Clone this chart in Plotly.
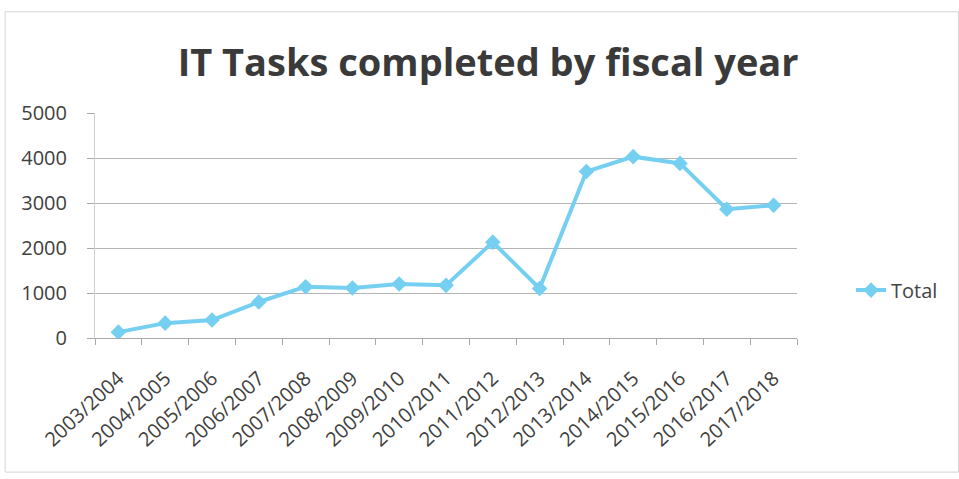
import plotly.graph_objects as go

years = ["2003/2004", "2004/2005", "2005/2006", "2006/2007", "2007/2008",
         "2008/2009", "2009/2010", "2010/2011", "2011/2012", "2012/2013",
         "2013/2014", "2014/2015", "2015/2016", "2016/2017", "2017/2018"]
totals = [130, 330, 400, 800, 1140, 1110, 1200, 1170, 2130, 1100,
          3700, 4030, 3880, 2860, 2950]
y_ticks = [0, 1000, 2000, 3000, 4000, 5000]

line_color = "#74cff1"
font_family = "Open Sans, Lato, sans-serif"
text_color = "#404040"

fig = go.Figure()
fig.add_trace(go.Scatter(
    x=years, y=totals, mode="lines+markers", name="Total",
    line=dict(color=line_color, width=4),
    marker=dict(symbol="diamond", size=12, color=line_color),
))

fig.update_layout(
    width=959, height=479,
    paper_bgcolor="white", plot_bgcolor="white",
    margin=dict(l=95, r=162, t=113, b=141),
    title=dict(text="<b>IT Tasks completed by fiscal year</b>",
               x=0.509, xanchor="center", y=0.87, yanchor="middle",
               font=dict(family=font_family, size=38, color="#3a3a3a")),
    legend=dict(x=1.077, xanchor="left", y=0.213, yanchor="middle",
                font=dict(family=font_family, size=20, color="#444444"),
                bgcolor="rgba(0,0,0,0)"),
    showlegend=True,
    shapes=[dict(type="rect", xref="paper", yref="paper",
                 x0=-0.128, x1=1.23, y0=-0.596, y1=1.45,
                 line=dict(color="#d4d4d4", width=1))],
)

fig.update_xaxes(
    type="category", range=[-0.5, len(years) - 0.5],
    tickangle=-43, tickson="boundaries",
    ticks="outside", ticklen=6, tickcolor="#a8a8a8",
    showline=True, linecolor="#a8a8a8", linewidth=1,
    showgrid=False, ticklabelstandoff=20,
    tickfont=dict(family=font_family, size=20, color=text_color),
)
fig.update_yaxes(
    range=[0, 5000], tickvals=y_ticks,
    showgrid=True, gridcolor="#b5b5b5", gridwidth=1,
    showline=True, linecolor="#d0d0d0",
    ticks="outside", ticklen=7, tickcolor="#a8a8a8",
    ticklabelstandoff=16,
    tickfont=dict(family=font_family, size=20, color=text_color),
    zeroline=False,
)

fig.write_html("out.html")
